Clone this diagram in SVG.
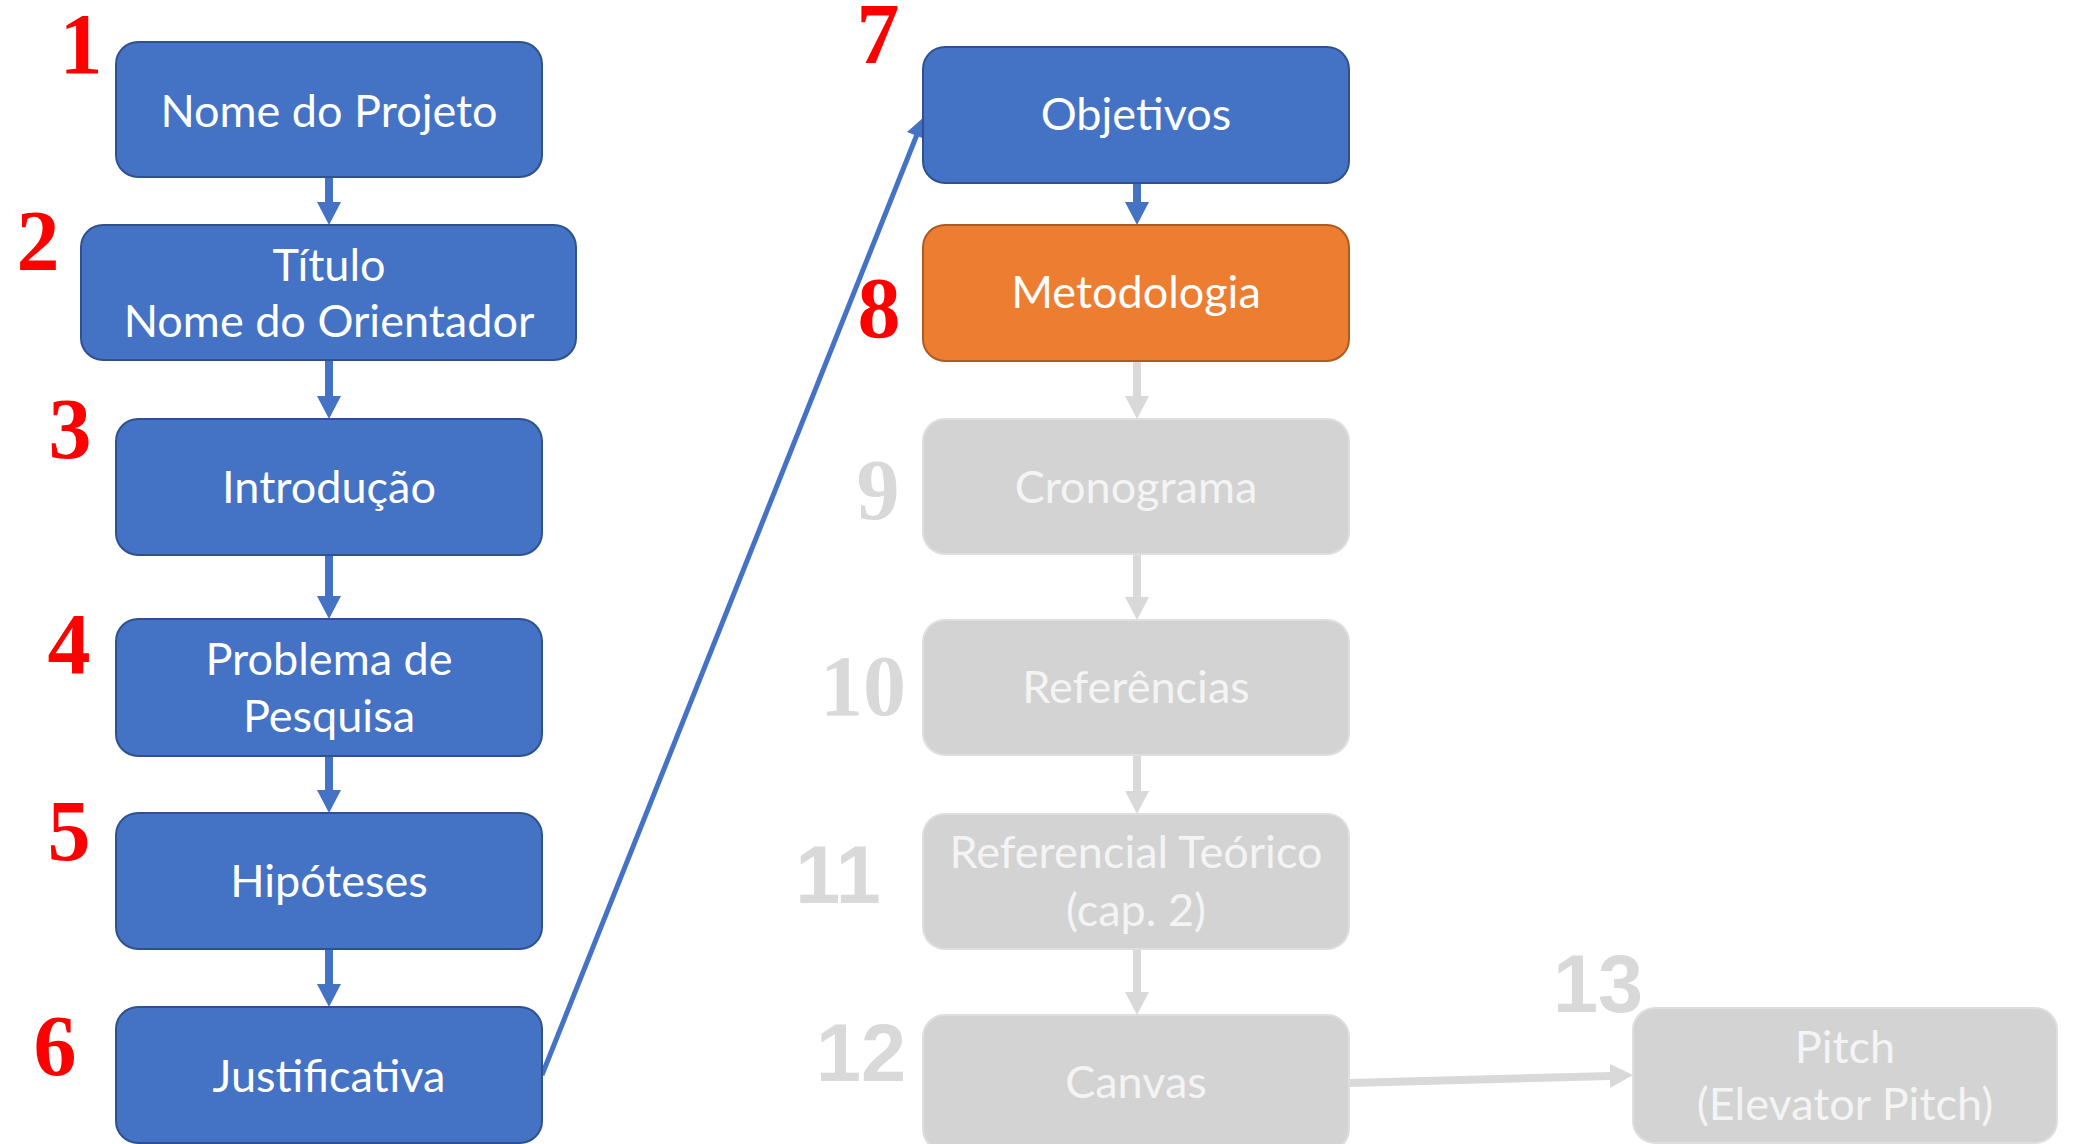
<svg xmlns="http://www.w3.org/2000/svg" width="2075" height="1144" viewBox="0 0 2075 1144">
<style>
.b{fill:#4472C4;stroke:#2F528F;stroke-width:2}
.o{fill:#ED7D31;stroke:#AE5A21;stroke-width:2}
.g{fill:#D3D3D3;stroke:#DEDEDE;stroke-width:2}
.t{font-family:Lato,"Open Sans",sans-serif;font-size:45px;fill:#FFFFFF;text-anchor:middle}
.tg{fill:#F4F4F4}
.nr{font-family:"Liberation Serif","Times New Roman",serif;font-weight:bold;font-size:86px;fill:#FF0000;text-anchor:middle}
.ngs{font-family:"Liberation Serif","Times New Roman",serif;font-weight:bold;font-size:86px;fill:#D9D9D9;text-anchor:middle}
.nga{font-family:"Liberation Sans",Arial,sans-serif;font-weight:bold;font-size:81px;fill:#D9D9D9;text-anchor:middle}
.lb{stroke:#4472C4;stroke-width:8;fill:none}
.lg{stroke:#D9D9D9;stroke-width:8;fill:none}
.hb{fill:#4472C4}
.hg{fill:#D9D9D9}
</style>
<rect width="2075" height="1144" fill="#FFFFFF"/>
<g id="connectors">
<line class="lb" x1="329" y1="177" x2="329" y2="203"/><polygon class="hb" points="317,202 341,202 329,225"/>
<line class="lb" x1="329" y1="360" x2="329" y2="397"/><polygon class="hb" points="317,396 341,396 329,419"/>
<line class="lb" x1="329" y1="555" x2="329" y2="597"/><polygon class="hb" points="317,596 341,596 329,619"/>
<line class="lb" x1="329" y1="756" x2="329" y2="791"/><polygon class="hb" points="317,790 341,790 329,813"/>
<line class="lb" x1="329" y1="949" x2="329" y2="985"/><polygon class="hb" points="317,984 341,984 329,1007"/>
<line class="lb" x1="1137" y1="183" x2="1137" y2="203"/><polygon class="hb" points="1125,202 1149,202 1137,225"/>
<line class="lg" x1="1137" y1="361" x2="1137" y2="397"/><polygon class="hg" points="1125,396 1149,396 1137,419"/>
<line class="lg" x1="1137" y1="554" x2="1137" y2="598"/><polygon class="hg" points="1125,597 1149,597 1137,620"/>
<line class="lg" x1="1137" y1="755" x2="1137" y2="792"/><polygon class="hg" points="1125,791 1149,791 1137,814"/>
<line class="lg" x1="1137" y1="949" x2="1137" y2="993"/><polygon class="hg" points="1125,992 1149,992 1137,1015"/>
<line class="lg" x1="1349" y1="1083" x2="1611" y2="1076"/><polygon class="hg" points="1610,1064 1610,1088 1633,1075"/>
<line stroke="#4472C4" stroke-width="5" x1="542" y1="1075" x2="918" y2="132"/><polygon class="hb" points="924,117 926,139.5 907,132"/>
</g>
<g id="n1"><rect class="b" x="116" y="42" width="426" height="135" rx="22"/><text class="t" x="329" y="127">Nome do Projeto</text><text class="nr" x="81" y="73">1</text></g>
<g id="n2"><rect class="b" x="81" y="225" width="495" height="135" rx="22"/><text class="t" x="329" y="281">Título</text><text class="t" x="329" y="337">Nome do Orientador</text><text class="nr" x="38" y="270">2</text></g>
<g id="n3"><rect class="b" x="116" y="419" width="426" height="136" rx="22"/><text class="t" x="329" y="503">Introdução</text><text class="nr" x="70" y="458">3</text></g>
<g id="n4"><rect class="b" x="116" y="619" width="426" height="137" rx="22"/><text class="t" x="329" y="675">Problema de</text><text class="t" x="329" y="732">Pesquisa</text><text class="nr" x="69" y="673">4</text></g>
<g id="n5"><rect class="b" x="116" y="813" width="426" height="136" rx="22"/><text class="t" x="329" y="897">Hipóteses</text><text class="nr" x="69" y="860">5</text></g>
<g id="n6"><rect class="b" x="116" y="1007" width="426" height="136" rx="22"/><text class="t" x="329" y="1092">Justificativa</text><text class="nr" x="55" y="1075">6</text></g>
<g id="n7"><rect class="b" x="923" y="47" width="426" height="136" rx="22"/><text class="t" x="1136" y="130">Objetivos</text><text class="nr" x="878" y="63">7</text></g>
<g id="n8"><rect class="o" x="923" y="225" width="426" height="136" rx="22"/><text class="t" x="1136" y="308">Metodologia</text><text class="nr" x="879" y="337">8</text></g>
<g id="n9"><rect class="g" x="923" y="419" width="426" height="135" rx="22"/><text class="t tg" x="1136" y="503">Cronograma</text><text class="ngs" x="878" y="519">9</text></g>
<g id="n10"><rect class="g" x="923" y="620" width="426" height="135" rx="22"/><text class="t tg" x="1136" y="703">Referências</text><text class="ngs" x="863" y="715">10</text></g>
<g id="n11"><rect class="g" x="923" y="814" width="426" height="135" rx="22"/><text class="t tg" x="1136" y="868">Referencial Teórico</text><text class="t tg" x="1136" y="926">(cap. 2)</text><text class="nga" x="838" y="903">11</text></g>
<g id="n12"><rect class="g" x="923" y="1015" width="426" height="136" rx="22"/><text class="t tg" x="1136" y="1098">Canvas</text><text class="nga" x="861" y="1081">12</text></g>
<g id="n13"><rect class="g" x="1633" y="1008" width="424" height="135" rx="22"/><text class="t tg" x="1845" y="1063">Pitch</text><text class="t tg" x="1845" y="1120">(Elevator Pitch)</text><text class="nga" x="1598" y="1012">13</text></g>
</svg>
